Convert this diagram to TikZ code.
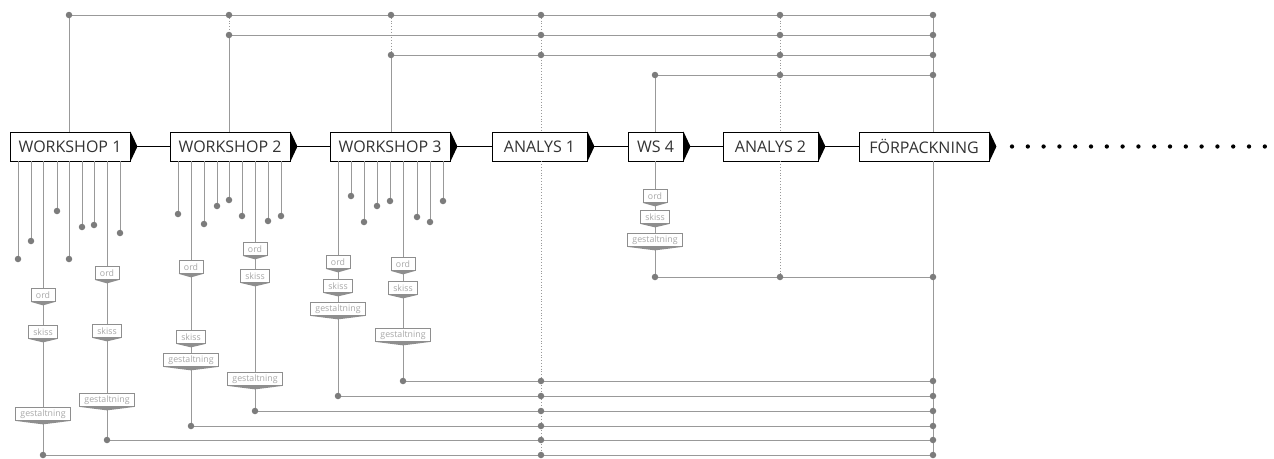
\documentclass[tikz,border=0pt]{standalone}
\usepackage{fontspec}
\setmainfont{Open Sans}
\usetikzlibrary{calc}
\definecolor{lnc}{HTML}{999999}
\definecolor{dotc}{HTML}{7C7C7C}
\definecolor{tagtxt}{HTML}{A8A8A8}
\definecolor{tagdraw}{HTML}{8E8E8E}
\definecolor{maintxt}{HTML}{333333}
\newcommand\tagnode[5]{%
  \node[tagbox, minimum width=#5pt] (#1) at (#2,#3) {#4};
  \fill[twedge] (#1.south west) -- ($(#1.south)+(0,3.5)$) -- (#1.south east) -- cycle;}
\newcommand\branch[7]{% name, box, x, ordy, skissy, gesty, bottom
  \coordinate (#1b) at (#3,#7);
  \draw[gline] (#1b |- #2.south) -- (#1b) -- (fpcol |- #1b);
  \tagnode{#1o}{#3}{#4}{ord}{24}
  \tagnode{#1s}{#3}{#5}{skiss}{29}
  \tagnode{#1g}{#3}{#6}{gestaltning}{55}
  \node[dot] (#1d1) at (#1b) {};
  \node[dot] (#1d2) at (a1col |- #1b) {};
  \node[dot] (#1d3) at (fpcol |- #1b) {};}
\newcommand\rwedge[1]{%
  \fill[wedge] (#1.north east) -- ($(#1.east)+(7,0)$) coordinate (#1tip) -- (#1.south east) -- cycle;}
\begin{document}
\begin{tikzpicture}[x=1pt,y=-1pt,
  mainbox/.style={draw=black, line width=0.9pt, fill=white, inner sep=0pt, minimum height=29pt, text=maintxt, font=\fontsize{16}{16}\selectfont},
  tagbox/.style={draw=tagdraw, line width=0.7pt, fill=white, inner sep=0pt, minimum height=13pt, text=tagtxt, font=\fontsize{8.8}{8.8}\selectfont},
  gline/.style={draw=lnc, line width=1pt},
  dotline/.style={draw=lnc, line width=0.8pt, dash pattern=on 0.8pt off 2pt},
  link/.style={draw=black, line width=1.1pt},
  wedge/.style={fill=black},
  twedge/.style={fill=tagdraw},
  dot/.style={circle, fill=dotc, inner sep=0pt, minimum size=6.5pt},
  edot/.style={circle, fill=black, inner sep=0pt, minimum size=4.3pt},
]
\useasboundingbox (0,0) rectangle (1274,458);

% main boxes
\node[mainbox, minimum width=120pt] (w1) at (70,146.5) {WORKSHOP 1};
\node[mainbox, minimum width=120pt] (w2) at (230,146.5) {WORKSHOP 2};
\node[mainbox, minimum width=120pt] (w3) at (390,146.5) {WORKSHOP 3};
\node[mainbox, minimum width=95pt] (a1) at (539.5,146.5) {ANALYS 1};
\node[mainbox, minimum width=55pt] (ws4) at (655.5,146.5) {WS 4};
\node[mainbox, minimum width=95pt] (a2) at (770.5,146.5) {ANALYS 2};
\node[mainbox, minimum width=130pt] (fp) at (924,146.5) {FÖRPACKNING};
\rwedge{w1}\rwedge{w2}\rwedge{w3}\rwedge{a1}\rwedge{ws4}\rwedge{a2}\rwedge{fp}
\draw[link] (w1tip) -- (w2.west);
\draw[link] (w2tip) -- (w3.west);
\draw[link] (w3tip) -- (a1.west);
\draw[link] (a1tip) -- (ws4.west);
\draw[link] (ws4tip) -- (a2.west);
\draw[link] (a2tip) -- (fp.west);
\foreach \i in {0,...,16} \node[edot] (e\i) at (1012+\i*15.8,146.5) {};

% column coordinates
\coordinate (c1) at (69,15);
\coordinate (c2) at (229,35);
\coordinate (c2t) at (229,15);
\coordinate (c3) at (391,55);
\coordinate (c3t) at (391,15);
\coordinate (c4) at (655,75);
\coordinate (a1col) at (541,15);
\coordinate (a2col) at (780,15);
\coordinate (fpcol) at (933,15);

% top bus lines
\draw[gline] (c1) -- (fpcol);
\draw[gline] (c2) -- (fpcol |- c2);
\draw[gline] (c3) -- (fpcol |- c3);
\draw[gline] (c4) -- (fpcol |- c4);
\draw[gline] (c1) -- (c1 |- w1.north);
\draw[dotline] (c2t) -- (c2);
\draw[gline] (c2) -- (c2 |- w2.north);
\draw[dotline] (c3t) -- (c3);
\draw[gline] (c3) -- (c3 |- w3.north);
\draw[gline] (c4) -- (c4 |- ws4.north);
\draw[dotline] (a1col) -- (a1col |- a1.north);
\draw[dotline] (a1col |- a1.south) -- (541,455);
\draw[dotline] (a2col) -- (a2col |- a2.north);
\draw[dotline] (a2col |- a2.south) -- (780,277);
\draw[gline] (fpcol) -- (fpcol |- fp.north);
\draw[gline] (fpcol |- fp.south) -- (933,455);

% short stems
\foreach \x/\y [count=\k] in {18/259,31/241,57/211,69/259,82/227,94/225,120/233} {
  \coordinate (sa\k) at (\x,\y);
  \draw[gline] (sa\k |- w1.south) -- (sa\k);
  \node[dot] at (sa\k) {};}
\foreach \x/\y [count=\k] in {178/214,204/224,217/206,229/200,242/216,268/221,281/216} {
  \coordinate (sb\k) at (\x,\y);
  \draw[gline] (sb\k |- w2.south) -- (sb\k);
  \node[dot] at (sb\k) {};}
\foreach \x/\y [count=\k] in {351/196,364/222,377/206,390/201,417/217,430/222,443/201} {
  \coordinate (sc\k) at (\x,\y);
  \draw[gline] (sc\k |- w3.south) -- (sc\k);
  \node[dot] at (sc\k) {};}

% long branches
\branch{ba}{w1}{43}{295}{332}{414}{455}
\branch{bb}{w1}{107}{273}{331}{400}{440}
\branch{bc}{w2}{191}{267}{337}{360}{426}
\branch{bd}{w2}{255}{249}{276}{379}{411}
\branch{be}{w3}{338}{262}{286}{309}{396}
\branch{bf}{w3}{403}{264}{288}{335}{381}

% WS 4 branch
\coordinate (b4) at (655,277);
\draw[gline] (b4 |- ws4.south) -- (b4) -- (fpcol |- b4);
\tagnode{b4o}{655}{196}{ord}{24}
\tagnode{b4s}{655}{217}{skiss}{29}
\tagnode{b4g}{655}{240}{gestaltning}{55}
\node[dot] at (b4) {};
\node[dot] at (a2col |- b4) {};
\node[dot] at (fpcol |- b4) {};

% top dots
\node[dot] at (c1) {};
\node[dot] at (c2t) {};
\node[dot] at (c2) {};
\node[dot] at (c3t) {};
\node[dot] at (c3) {};
\node[dot] at (c4) {};
\foreach \c in {c1,c2,c3} \node[dot] at (a1col |- \c) {};
\foreach \c in {c1,c2,c3,c4} {
  \node[dot] at (a2col |- \c) {};
  \node[dot] at (fpcol |- \c) {};}
\end{tikzpicture}
\end{document}
